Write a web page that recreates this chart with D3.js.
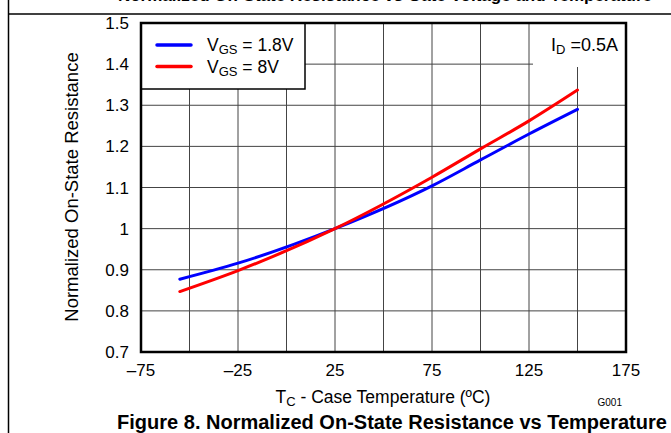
<!DOCTYPE html>
<html>
<head>
<meta charset="utf-8">
<script src="https://cdn.jsdelivr.net/npm/d3@7"></script>
<style>
  body { margin: 0; background: #fff; }
  svg { display: block; font-family: "Liberation Sans", Arial, sans-serif; }
</style>
</head>
<body>
<div id="chart"></div>
<script>
// data
const temps = [-55, -25, 25, 75, 100, 125, 150];
const vgs18 = [0.877, 0.916, 1.0, 1.104, 1.167, 1.230, 1.290];
const vgs8 = [0.847, 0.898, 1.0, 1.125, 1.194, 1.262, 1.337];
const xTicks = [-75, -25, 25, 75, 125, 175];
const yTicks = [0.7, 0.8, 0.9, 1, 1.1, 1.2, 1.3, 1.4, 1.5];
const xGrid = d3.range(-75, 176, 25);

const W = 671, H = 433;
const svg = d3.select("#chart").append("svg").attr("width", W).attr("height", H);

const pL = 141, pR = 626, pT = 23, pB = 352;
const x = d3.scaleLinear().domain([-75, 175]).range([pL, pR]);
const y = d3.scaleLinear().domain([0.7, 1.5]).range([pB, pT]);

// page frame pieces (figure header is cut off at the top edge)
svg.append("line").attr("x1", 8.5).attr("x2", 8.5).attr("y1", 0).attr("y2", H)
  .attr("stroke", "#000").attr("stroke-width", 1.5);
svg.append("line").attr("x1", 8).attr("x2", W).attr("y1", 14).attr("y2", 14)
  .attr("stroke", "#000").attr("stroke-width", 1.5);
svg.append("text").attr("x", 385).attr("y", 1).attr("text-anchor", "middle")
  .attr("font-weight", "bold").attr("font-size", 17)
  .text("Normalized On-State Resistance vs Gate Voltage and Temperature");

// grid
const grid = svg.append("g").attr("stroke", "#444").attr("stroke-width", 1);
grid.selectAll("line.v").data(xGrid.slice(1, -1)).enter().append("line")
  .attr("x1", d => x(d)).attr("x2", d => x(d)).attr("y1", pT).attr("y2", pB);
grid.selectAll("line.h").data(yTicks.slice(1, -1)).enter().append("line")
  .attr("x1", pL).attr("x2", pR).attr("y1", d => y(d)).attr("y2", d => y(d));

// curves
const line = d3.line().x(d => x(d[0])).y(d => y(d[1])).curve(d3.curveMonotoneX);
svg.append("path").datum(d3.zip(temps, vgs18)).attr("fill", "none")
  .attr("stroke", "#0000ff").attr("stroke-width", 3).attr("stroke-linecap", "round").attr("d", line);
svg.append("path").datum(d3.zip(temps, vgs8)).attr("fill", "none")
  .attr("stroke", "#ff0000").attr("stroke-width", 3).attr("stroke-linecap", "round").attr("d", line);

// legend box
svg.append("rect").attr("x", pL).attr("y", pT).attr("width", 164).attr("height", 66)
  .attr("fill", "#fff").attr("stroke", "#000").attr("stroke-width", 1.5);
const legend = [["1.8V", "#0000ff"], ["8V", "#ff0000"]];
legend.forEach((d, i) => {
  const ly = 45 + i * 21.5;
  svg.append("line").attr("x1", 157).attr("x2", 191).attr("y1", ly).attr("y2", ly)
    .attr("stroke", d[1]).attr("stroke-width", 3.5).attr("stroke-linecap", "round");
  const t = svg.append("text").attr("x", 207).attr("y", ly + 6).attr("font-size", 17.5);
  t.append("tspan").text("V");
  t.append("tspan").attr("font-size", 13).attr("dy", 3).text("GS");
  t.append("tspan").attr("dy", -3).text(" = " + d[0]);
});

// ID label box
svg.append("rect").attr("x", 533).attr("y", pT).attr("width", pR - 533).attr("height", 44)
  .attr("fill", "#fff");
const id = svg.append("text").attr("x", 618).attr("y", 51).attr("font-size", 18).attr("text-anchor", "end");
id.append("tspan").text("I");
id.append("tspan").attr("font-size", 13).attr("dy", 3).text("D");
id.append("tspan").attr("dy", -3).text(" =0.5A");

// plot frame
svg.append("rect").attr("x", pL).attr("y", pT).attr("width", pR - pL).attr("height", pB - pT)
  .attr("fill", "none").attr("stroke", "#000").attr("stroke-width", 2.5);

// tick labels
svg.selectAll("text.yt").data(yTicks).enter().append("text")
  .attr("x", 129).attr("y", d => y(d) + 6).attr("text-anchor", "end").attr("font-size", 17)
  .text(d => d3.format("")(d));
svg.selectAll("text.xt").data(xTicks).enter().append("text")
  .attr("x", d => x(d)).attr("y", 376).attr("text-anchor", "middle").attr("font-size", 17)
  .text(d => d < 0 ? "\u2013" + Math.abs(d) : d);

// axis titles
svg.append("text").attr("transform", "translate(78,187) rotate(-90)").attr("text-anchor", "middle")
  .attr("font-size", 18.5).text("Normalized On-State Resistance");
const xt = svg.append("text").attr("x", 383).attr("y", 403).attr("text-anchor", "middle").attr("font-size", 17.5);
xt.append("tspan").text("T");
xt.append("tspan").attr("font-size", 13).attr("dy", 3).text("C");
xt.append("tspan").attr("dy", -3).text(" - Case Temperature (\u00baC)");

svg.append("text").attr("x", 622).attr("y", 406).attr("text-anchor", "end").attr("font-size", 10).text("G001");

svg.append("text").attr("x", 392).attr("y", 429).attr("text-anchor", "middle")
  .attr("font-weight", "bold").attr("font-size", 20)
  .text("Figure 8. Normalized On-State Resistance vs Temperature");
</script>
</body>
</html>
